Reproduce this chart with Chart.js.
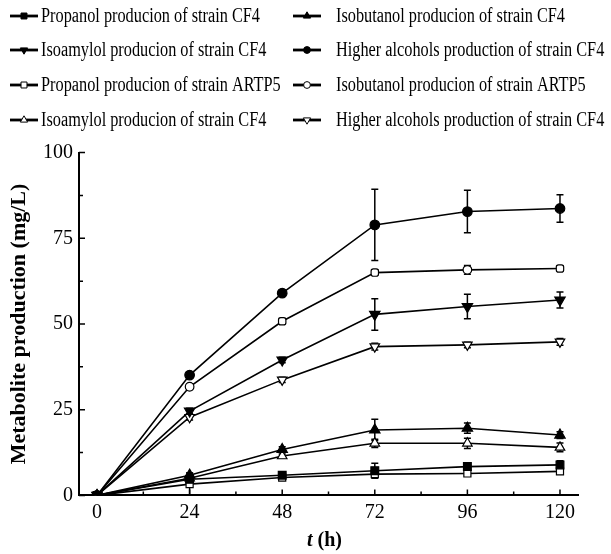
<!DOCTYPE html>
<html lang="en">
<head>
<meta charset="UTF-8">
<title>Metabolite production</title>
<script src="https://cdn.jsdelivr.net/npm/chart.js"></script>
<style>
    html, body { margin: 0; padding: 0; background: #fff; }
    .box { width: 611px; height: 554px; }
</style>
</head>
<body>
<div class="box"><canvas id="myChart" width="611" height="554"></canvas></div>
<script>
// time points (h) and tick values
const hours = [0, 24, 48, 72, 96, 120];
const xTicks = [0, 24, 48, 72, 96, 120];
const xMinorTicks = [12, 36, 60, 84, 108];
const yTicks = [0, 25, 50, 75, 100];
const yMinorTicks = [12.5, 37.5, 62.5, 87.5];

// series, named after the legend entries they are drawn with
const propanolCF4 = [0, 4.7, 5.9, 7.2, 8.4, 8.9];
const propanolCF4Err = [0, 0.6, 0.6, 2.2, 1.0, 1.2];
const isobutanolCF4 = [0, 5.9, 13.4, 19.1, 19.6, 17.6];
const isobutanolCF4Err = [0, 0.6, 0.8, 3.1, 1.5, 1.0];
const isoamylolCF4 = [0, 24.6, 39.5, 52.8, 55.1, 57.0];
const isoamylolCF4Err = [0, 0.8, 0.8, 4.6, 3.6, 2.3];
const higherCF4 = [0, 35.1, 59.0, 78.9, 82.8, 83.7];
const higherCF4Err = [0, 0.6, 0.8, 10.4, 6.2, 4.0];
const propanolARTP5 = [0, 3.3, 5.2, 6.2, 6.4, 7.0];
const propanolARTP5Err = [0, 3.2, 0.6, 0.8, 0.6, 0.6];
const isobutanolARTP5 = [0, 31.7, 50.8, 65.0, 65.8, 66.2];
const isobutanolARTP5Err = [0, 0.8, 0.8, 0.8, 1.3, 0.8];
const isoamylolOpen = [0, 5.0, 11.5, 15.2, 15.2, 14.0];
const isoamylolOpenErr = [0, 0.6, 0.6, 1.2, 1.5, 1.3];
const higherOpen = [0, 22.8, 33.7, 43.4, 43.9, 44.8];
const higherOpenErr = [0, 0.8, 0.8, 1.0, 0.8, 1.0];

const FONT = "'Liberation Serif', 'Times New Roman', serif";

function series(label, values, errs, style, rot, filled, radius, pointStyles) {
    return {
        label: label,
        data: hours.map((h, i) => ({ x: h, y: values[i] })),
        errs: errs,
        legendStyle: style,
        borderColor: '#000',
        borderWidth: 1.6,
        backgroundColor: filled ? '#000' : '#fff',
        pointStyle: pointStyles || style,
        pointRotation: rot,
        pointRadius: radius,
        pointBorderColor: '#000',
        pointBackgroundColor: filled ? '#000' : '#fff',
        pointBorderWidth: 1.2,
        tension: 0
    };
}

const datasets = [
    series('Propanol producion of strain CF4', propanolCF4, propanolCF4Err, 'rect', 0, true, 5.5),
    series('Isobutanol producion of strain CF4', isobutanolCF4, isobutanolCF4Err, 'triangle', 0, true, 6),
    series('Isoamylol producion of strain CF4', isoamylolCF4, isoamylolCF4Err, 'triangle', 180, true, 6),
    series('Higher alcohols production of strain CF4', higherCF4, higherCF4Err, 'circle', 0, true, 4.8),
    series('Propanol producion of strain ARTP5', propanolARTP5, propanolARTP5Err, 'rect', 0, false, 5),
    series('Isobutanol producion of strain ARTP5', isobutanolARTP5, isobutanolARTP5Err, 'circle', 0, false, 4.3,
        ['circle', 'circle', 'rectRounded', 'rectRounded', 'circle', 'rectRounded']),
    series('Isoamylol producion of strain CF4', isoamylolOpen, isoamylolOpenErr, 'triangle', 0, false, 5.5),
    series('Higher alcohols production of strain CF4', higherOpen, higherOpenErr, 'triangle', 180, false, 5.5)
];

// error bars drawn under the markers
const errorBars = {
    id: 'errorBars',
    beforeDatasetsDraw(chart) {
        const ctx = chart.ctx, xs = chart.scales.x, ys = chart.scales.y;
        ctx.save();
        ctx.strokeStyle = '#000';
        ctx.lineWidth = 1.5;
        chart.data.datasets.forEach(ds => {
            ds.data.forEach((p, i) => {
                const e = ds.errs[i];
                if (!e) return;
                const x = xs.getPixelForValue(p.x);
                const y1 = ys.getPixelForValue(p.y + e);
                const y2 = ys.getPixelForValue(Math.max(0, p.y - e));
                ctx.beginPath();
                ctx.moveTo(x, y1); ctx.lineTo(x, y2);
                ctx.moveTo(x - 3.5, y1); ctx.lineTo(x + 3.5, y1);
                ctx.moveTo(x - 3.5, y2); ctx.lineTo(x + 3.5, y2);
                ctx.stroke();
            });
        });
        ctx.restore();
    }
};

// inward ticks, x title and the two-column legend
const decorations = {
    id: 'decorations',
    afterDraw(chart) {
        const ctx = chart.ctx, xs = chart.scales.x, ys = chart.scales.y;
        const area = chart.chartArea;
        ctx.save();
        ctx.strokeStyle = '#000';
        ctx.lineWidth = 1.5;
        ctx.beginPath();
        xTicks.forEach(v => { const x = xs.getPixelForValue(v); ctx.moveTo(x, area.bottom); ctx.lineTo(x, area.bottom - 6); });
        xMinorTicks.forEach(v => { const x = xs.getPixelForValue(v); ctx.moveTo(x, area.bottom); ctx.lineTo(x, area.bottom - 4); });
        yTicks.forEach(v => { const y = ys.getPixelForValue(v); ctx.moveTo(area.left, y); ctx.lineTo(area.left + 6, y); });
        yMinorTicks.forEach(v => { const y = ys.getPixelForValue(v); ctx.moveTo(area.left, y); ctx.lineTo(area.left + 4, y); });
        ctx.stroke();

        // x title: italic t
        ctx.fillStyle = '#000';
        ctx.textBaseline = 'middle';
        ctx.font = 'italic bold 20px ' + FONT;
        const wT = ctx.measureText('t').width;
        ctx.font = 'bold 20px ' + FONT;
        const wH = ctx.measureText(' (h)').width;
        const cx = (area.left + area.right) / 2 - 4;
        const tx = cx - (wT + wH) / 2;
        ctx.textAlign = 'left';
        ctx.font = 'italic bold 20px ' + FONT;
        ctx.fillText('t', tx, 541);
        ctx.font = 'bold 20px ' + FONT;
        ctx.fillText(' (h)', tx + wT, 541);

        // legend
        const cols = [10, 293];
        const textX = [41, 336];
        const rows = [16, 50, 85, 120];
        ctx.font = '20px ' + FONT;
        const squeeze = 219 / ctx.measureText('Propanol producion of strain CF4').width;
        chart.data.datasets.forEach((ds, i) => {
            const c = i % 2, x = cols[c], y = rows[Math.floor(i / 2)];
            ctx.lineWidth = 2.8;
            ctx.beginPath();
            ctx.moveTo(x, y); ctx.lineTo(x + 28, y);
            ctx.stroke();
            ctx.fillStyle = ds.pointBackgroundColor;
            ctx.lineWidth = 1;
            Chart.helpers.drawPoint(ctx, {
                pointStyle: ds.legendStyle, rotation: ds.pointRotation,
                radius: ds.legendStyle === 'circle' ? 3.4 : 4.2, borderWidth: 1
            }, x + 14, y);
            ctx.fillStyle = '#000';
            ctx.save();
            ctx.translate(textX[c], y);
            ctx.scale(squeeze, 1);
            ctx.fillText(ds.label, 0, 1);
            ctx.restore();
        });
        ctx.restore();
    }
};

const ctx = document.querySelector('#myChart');
const myChart = new Chart(ctx, {
    type: 'line',
    data: { datasets: datasets },
    options: {
        responsive: false,
        animation: false,
        devicePixelRatio: 1,
        layout: { padding: { top: 152.6, right: 33, left: 0, bottom: 0 } },
        plugins: { legend: { display: false }, tooltip: { enabled: false } },
        scales: {
            x: {
                type: 'linear',
                min: -4.67,
                max: 124.67,
                afterBuildTicks: s => { s.ticks = xTicks.map(v => ({ value: v })); },
                afterFit: s => { s.height = 58.6; },
                grid: { display: false, drawTicks: false },
                border: { display: true, color: '#000', width: 2 },
                ticks: { color: '#000', padding: 5, maxRotation: 0, font: { family: FONT, size: 20 } }
            },
            y: {
                min: 0,
                max: 100,
                afterBuildTicks: s => { s.ticks = yTicks.map(v => ({ value: v })); },
                afterFit: s => { s.width = 79; },
                grid: { display: false, drawTicks: false },
                border: { display: true, color: '#000', width: 2 },
                ticks: { color: '#000', padding: 6, font: { family: FONT, size: 20 } },
                title: {
                    display: true,
                    text: 'Metabolite production (mg/L)',
                    color: '#000',
                    padding: { top: 6, bottom: 0 },
                    font: { family: FONT, size: 22, weight: 'bold' }
                }
            }
        }
    },
    plugins: [errorBars, decorations]
});
</script>
</body>
</html>
